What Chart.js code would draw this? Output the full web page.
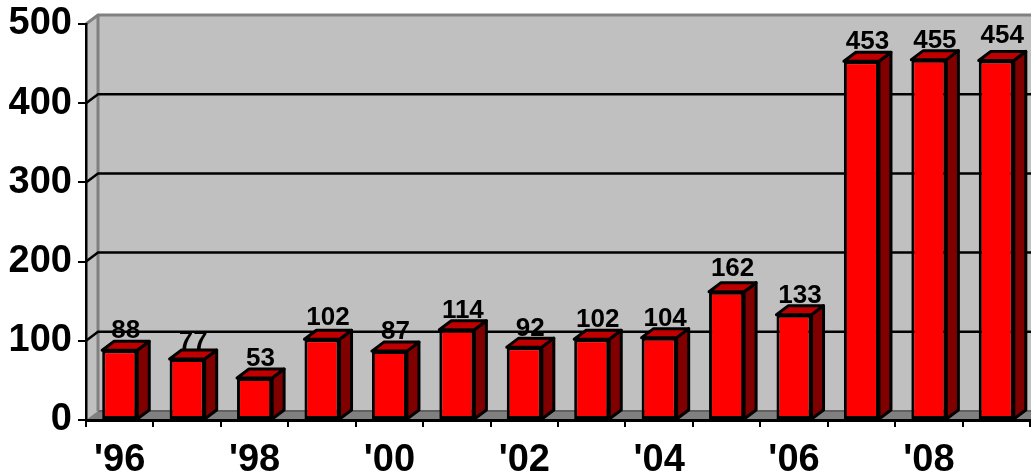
<!DOCTYPE html>
<html lang="en">
<head>
    <meta charset="UTF-8">
    <title>Yearly values '96 - '09</title>
    <script src="https://cdn.jsdelivr.net/npm/chart.js"></script>
    <style>
        html, body { margin: 0; padding: 0; background: #fff; }
        #wrap { width: 1031px; height: 475px; }
    </style>
</head>
<body>
    <div id="wrap"><canvas id="myChart"></canvas></div>

    <script>
        const years = ["'96", "'97", "'98", "'99", "'00", "'01", "'02", "'03", "'04", "'05", "'06", "'07", "'08", "'09"];
        const values = [88, 77, 53, 102, 87, 114, 92, 102, 104, 162, 133, 453, 455, 454];
        const yTicks = [0, 100, 200, 300, 400, 500];

        // the fake 3D depth of the old chart
        const depthX = 12;
        const depthY = 9;
        const fontFamily = '"Liberation Sans", Arial, sans-serif';
        // a few value labels sit a bit off in the original (by bar index)
        const labelNudge = { 1: 2, 3: -2, 6: 1, 9: -4, 13: -5 };

        function poly(ctx, pts, fill, stroke, width) {
            ctx.beginPath();
            pts.forEach((p, i) => i ? ctx.lineTo(p[0], p[1]) : ctx.moveTo(p[0], p[1]));
            ctx.closePath();
            if (fill) { ctx.fillStyle = fill; ctx.fill(); }
            if (stroke) { ctx.strokeStyle = stroke; ctx.lineWidth = width; ctx.stroke(); }
        }

        function line(ctx, pts, color, width) {
            ctx.beginPath();
            pts.forEach((p, i) => i ? ctx.lineTo(p[0], p[1]) : ctx.moveTo(p[0], p[1]));
            ctx.strokeStyle = color;
            ctx.lineWidth = width;
            ctx.stroke();
        }

        const wallsPlugin = {
            id: 'walls',
            beforeDraw(chart) {
                const ctx = chart.ctx;
                const a = chart.chartArea;
                const yScale = chart.scales.y;
                const right = a.right + depthX + 2;
                ctx.save();
                // back wall + left wall
                poly(ctx, [[a.left, a.top], [a.left + depthX, a.top - depthY], [right, a.top - depthY], [right, a.bottom], [a.left, a.bottom]], '#c0c0c0');
                // floor
                poly(ctx, [[a.left, a.bottom], [a.left + depthX, a.bottom - depthY], [right, a.bottom - depthY], [right, a.bottom]], '#808080');
                line(ctx, [[a.left + depthX, a.bottom - depthY], [right, a.bottom - depthY]], '#606060', 2);
                // wall edges
                line(ctx, [[a.left, a.top], [a.left + depthX, a.top - depthY], [right, a.top - depthY]], '#808080', 3);
                line(ctx, [[a.left + depthX, a.top - depthY], [a.left + depthX, a.bottom - depthY]], '#808080', 3);
                // grid lines run over the left wall and then along the back
                yTicks.forEach(v => {
                    if (v === 0 || v === 500) return;
                    const y = yScale.getPixelForValue(v);
                    line(ctx, [[a.left, y], [a.left + depthX, y - depthY], [right, y - depthY]], '#000', 2.5);
                });
                ctx.restore();
            },
            afterDatasetsDraw(chart) {
                const ctx = chart.ctx;
                const bars = chart.getDatasetMeta(0).data;
                ctx.save();
                ctx.lineJoin = 'round';
                // value labels first, the bar tops cover their lower edge
                ctx.fillStyle = '#000';
                ctx.font = 'bold 26px ' + fontFamily;
                ctx.textAlign = 'center';
                ctx.textBaseline = 'alphabetic';
                bars.forEach((bar, i) => {
                    ctx.fillStyle = '#000';
                    ctx.fillText(values[i], bar.x + 6, bar.y - 12 + (labelNudge[i] || 0));
                });
                bars.forEach(bar => {
                    const half = bar.width / 2;
                    const l = bar.x - half;
                    const r = bar.x + half;
                    const t = bar.y;
                    const b = bar.base;
                    // right side and top face
                    poly(ctx, [[r, t], [r + depthX, t - depthY], [r + depthX, b - depthY], [r, b]], '#800000', '#000', 3);
                    poly(ctx, [[l, t], [l + depthX, t - depthY], [r + depthX, t - depthY], [r, t]], '#c00000', '#000', 3);
                });
                ctx.restore();
            }
        };

        new Chart(document.getElementById('myChart'), {
            type: 'bar',
            data: {
                labels: years,
                datasets: [{
                    data: values,
                    backgroundColor: '#ff0000',
                    borderColor: '#000',
                    borderWidth: 3,
                    borderSkipped: false,
                    categoryPercentage: 1,
                    barPercentage: 0.52
                }]
            },
            plugins: [wallsPlugin],
            options: {
                responsive: true,
                maintainAspectRatio: false,
                animation: false,
                layout: { padding: { top: 24, right: 1, left: 0, bottom: 0 } },
                plugins: { legend: { display: false }, tooltip: { enabled: false } },
                scales: {
                    x: {
                        afterFit(scale) { scale.height = 55; scale.paddingRight = 0; scale.paddingLeft = 0; },
                        grid: { drawOnChartArea: false, offset: true, color: '#000', tickColor: '#000', tickLength: 7, lineWidth: 2 },
                        border: { color: '#000', width: 3 },
                        ticks: {
                            autoSkip: false,
                            maxRotation: 0,
                            padding: 11,
                            color: '#000',
                            font: { family: fontFamily, size: 38, weight: 'bold' },
                            callback: (v, i) => i % 2 === 0 ? years[i] : ''
                        }
                    },
                    y: {
                        min: 0,
                        max: 500,
                        afterFit(scale) { scale.width = 86; scale.paddingTop = 0; scale.paddingBottom = 0; },
                        grid: { drawOnChartArea: false, color: '#000', tickColor: '#000', tickLength: 8, lineWidth: 2 },
                        border: { color: '#000', width: 2.5 },
                        ticks: {
                            stepSize: 100,
                            padding: 6,
                            color: '#000',
                            font: { family: fontFamily, size: 38, weight: 'bold' }
                        }
                    }
                }
            }
        });
    </script>
</body>
</html>
